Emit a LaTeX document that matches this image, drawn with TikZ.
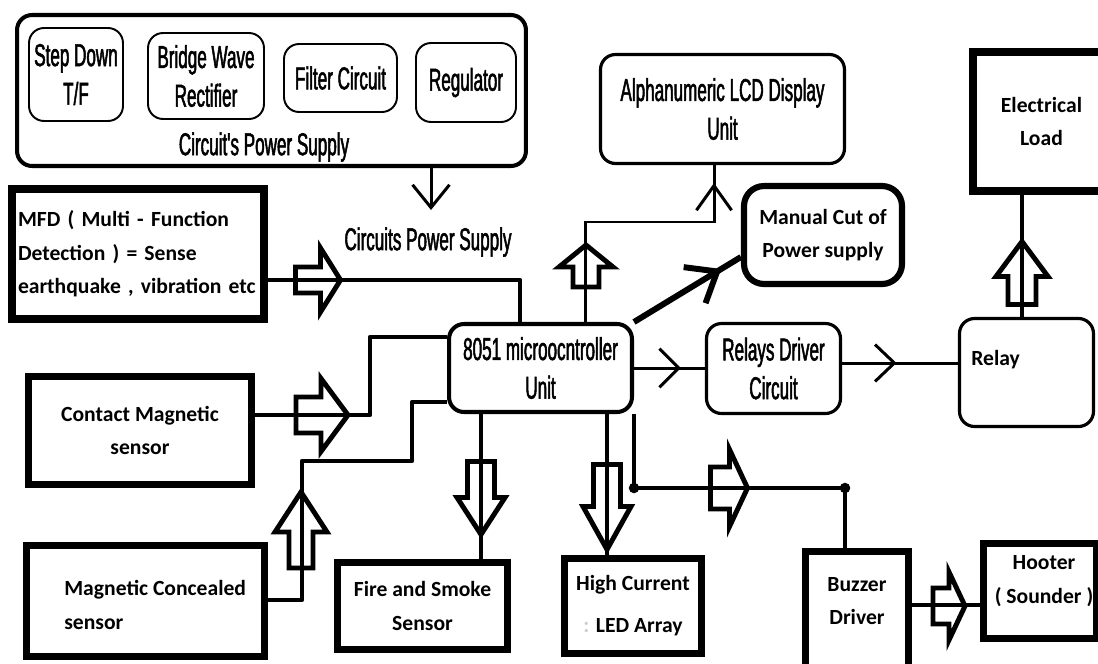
\documentclass[tikz,border=0pt]{standalone}
\usepackage{fontspec}
\setmainfont{Carlito}
\newfontfamily\condfont[FakeStretch=0.54, FakeBold=1.6]{Liberation Sans}
\usetikzlibrary{arrows.meta,decorations.markings}

\tikzset{
	heavybox/.style={draw, line width=4pt, inner sep=0pt, align=center, font=\bfseries\fontsize{12.3}{19}\selectfont},
	softbox/.style={draw, rounded corners=0.3cm, line width=1.8pt, inner sep=0pt, align=center, font=\condfont\fontsize{18}{22}\selectfont},
	psubox/.style={softbox, line width=1.1pt},
	boldtxt/.style={inner sep=0pt, align=center, font=\bfseries\fontsize{12.3}{19}\selectfont},
	condtxt/.style={inner sep=0pt, align=center, font=\condfont\fontsize{18}{22}\selectfont},
	wire/.style={line width=2.5pt, line join=round},
	thinwire/.style={line width=1.7pt},
	chevron/.style args={#1/#2/#3}{postaction={decorate}, decoration={markings, mark=at position #1 with {\arrow{Straight Barb[length=#2,width=#3]}}}},
	pics/blockarr/.style n args={4}{code={
		\draw[line width=2.8pt, fill=white, line join=miter]
			(-#1/2, #4/2) -- (#1/2-#2, #4/2) -- (#1/2-#2, #3/2) -- (#1/2, 0)
			-- (#1/2-#2, -#3/2) -- (#1/2-#2, -#4/2) -- (-#1/2, -#4/2) -- cycle;
	}},
}

\begin{document}
\begin{tikzpicture}[x=0.02cm, y=-0.02cm]
	\useasboundingbox (0,0) rectangle (1098,663);
	\clip (0,0) rectangle (1098,663);

	% power supply
	\node[psubox, line width=2.3pt, minimum width=10.18cm, minimum height=3.02cm] (psu) at (271.5,90.5) {};
	\node[psubox, minimum width=1.88cm, minimum height=1.86cm] (stepdn) at (76,74.5) {Step Down\\T/F};
	\node[psubox, minimum width=2.32cm, minimum height=1.72cm] (bridge) at (206,76) {Bridge Wave\\Rectifier};
	\node[psubox, minimum width=2.26cm, minimum height=1.36cm] (filter) at (340.5,78) {Filter Circuit};
	\node[psubox, minimum width=2.0cm, minimum height=1.58cm] (regul) at (466,82.5) {Regulator};
	\node[condtxt] (psulbl) at (264,147) {Circuit's Power Supply};
	\node[condtxt] (psuout) at (428,242) {Circuits Power Supply};
	\coordinate (psutip) at (431,210);
	\draw[thinwire, -{Straight Barb[length=13pt,width=21pt]}] (psu.south -| psutip) -- (psutip);

	% sensors
	\node[heavybox, line width=4.5pt, minimum width=5.04cm, minimum height=2.6cm, text width=4.8cm, align=left] (mfd) at (138,254) {MFD ( Multi - Function\\Detection ) = Sense\\earthquake , vibration etc};
	\node[heavybox, minimum width=4.46cm, minimum height=2.16cm] (contact) at (140,430.5) {Contact Magnetic\\sensor};
	\node[heavybox, minimum width=4.76cm, minimum height=2.22cm] (magcon) at (145.5,601) {};
	\node[boldtxt, anchor=west, align=left] (magcontxt) at (64,605) {Magnetic Concealed\\sensor};

	% controller and outputs
	\node[softbox, line width=2.3pt, minimum width=3.66cm, minimum height=1.76cm] (micro) at (540.5,368) {8051 microocntroller\\Unit};
	\node[heavybox, minimum width=3.4cm, minimum height=1.74cm] (fire) at (422.5,606) {Fire and Smoke\\Sensor};
	\node[heavybox, minimum width=2.74cm, minimum height=1.9cm] (led) at (633,606) {High Current\\[5pt]{\color{gray!40}:} LED Array};
	\node[heavybox, minimum width=2.06cm, minimum height=2.6cm] (buzzer) at (857,616.5) {};
	\node[boldtxt] (buzzertxt) at (857,601) {Buzzer\\Driver};
	\node[heavybox, minimum width=2.27cm, minimum height=1.9cm] (hooter) at (1040.25,591) {};
	\node[boldtxt] (hootertxt) at (1044,581) {Hooter\\( Sounder )};
	\node[softbox, minimum width=2.68cm, minimum height=1.8cm] (relays) at (773.5,368.5) {Relays Driver\\Circuit};
	\node[softbox, minimum width=2.68cm, minimum height=2.16cm] (relay) at (1026.5,372.5) {};
	\node[boldtxt, anchor=west] (relaytxt) at (971,360) {Relay};
	\node[heavybox, line width=4.5pt, minimum width=2.74cm, minimum height=2.78cm] (load) at (1041.5,121.5) {Electrical\\Load};
	\node[softbox, minimum width=4.88cm, minimum height=2.18cm] (lcd) at (722.5,109) {Alphanumeric LCD Display\\Unit};
	\node[softbox, line width=3.5pt, rounded corners=0.4cm, minimum width=3.16cm, minimum height=1.96cm, font=\bfseries\fontsize{12.3}{19}\selectfont] (manual) at (823,235) {Manual Cut of\\Power supply};

	% block arrows
	\pic at (318,280) {blockarr={45}{20}{64}{26}};
	\pic at (322,415) {blockarr={52}{27}{73}{36}};
	\pic[rotate=90] at (301,530) {blockarr={76}{40}{52}{24}};
	\pic[rotate=-90] at (481,498) {blockarr={73}{37}{48}{27}};
	\pic[rotate=-90] at (607,507) {blockarr={85}{43}{48}{27}};
	\pic at (729,488) {blockarr={37}{18}{77}{42}};
	\pic at (949,606) {blockarr={32}{16}{68}{36}};
	\pic[rotate=90] at (1022,273) {blockarr={63}{35}{52}{28}};
	\pic[rotate=90] at (586,266) {blockarr={42}{22}{54}{26}};

	% connections
	\draw[wire] (mfd.east |- 0,280) -| (micro.north -| 520,0);
	\draw[wire] (contact.east |- 0,415) -| (370,337) -- (micro.west |- 0,337);
	\draw[wire] (magcon.east |- 0,600) -| (302,461) -| (412,402) -- (micro.west |- 0,402);
	\draw[wire] (micro.south -| 481,0) -- (fire.north -| 481,0);
	\draw[wire] (micro.south -| 607,0) -- (led.north -| 607,0);
	\draw[wire] (micro.south east) |- (845,488) -- (buzzer.north -| 845,0);
	\fill (634,488) circle[radius=3pt] (845,488) circle[radius=3pt];
	\draw[wire] (buzzer.east |- 0,605) -- (hooter.west |- 0,605);
	\draw[thinwire, chevron={0.66/11pt/22pt}] (micro.east |- 0,368) -- (relays.west |- 0,368);
	\draw[thinwire, chevron={0.47/11pt/21pt}] (relays.east |- 0,363) -- (relay.west |- 0,363);
	\draw[wire] (relay.north -| 1022,0) -- (load.south -| 1022,0);
	\draw[thinwire, chevron={-0.36cm/14pt/20pt}] (micro.north -| 585,0) |- (714,222) -- (lcd.south -| 714,0);
	\draw[line width=3.4pt, chevron={-0.46cm/15pt/24pt}] (micro.north east) -- (manual.west |- 0,257);
\end{tikzpicture}
\end{document}
